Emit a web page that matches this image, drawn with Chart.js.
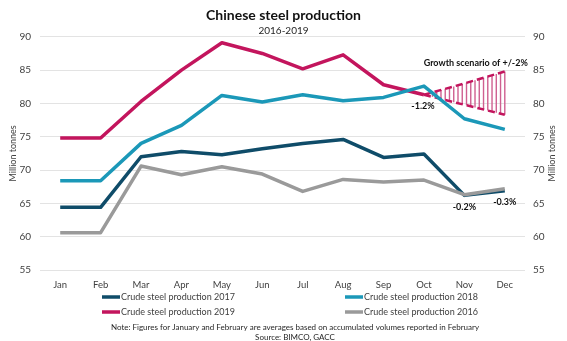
<!DOCTYPE html>
<html>
<head>
<meta charset="utf-8">
<script src="https://cdn.jsdelivr.net/npm/chart.js@4.4.1/dist/chart.umd.min.js"></script>
<style>
    html, body { margin: 0; padding: 0; background: #fff; }
</style>
</head>
<body>
<canvas id="myChart" width="567" height="341"></canvas>
<script>
// ------------------------------------------ data ------------------------------------------
const months = ['Jan', 'Feb', 'Mar', 'Apr', 'May', 'Jun', 'Jul', 'Aug', 'Sep', 'Oct', 'Nov', 'Dec'];
const prod2017 = [64.4, 64.4, 72.0, 72.8, 72.3, 73.2, 74.0, 74.6, 71.9, 72.4, 66.2, 66.9];
const prod2018 = [68.4, 68.4, 74.0, 76.7, 81.2, 80.2, 81.3, 80.4, 80.9, 82.6, 77.7, 76.1];
const prod2019 = [74.8, 74.8, 80.3, 85.0, 89.1, 87.5, 85.2, 87.3, 82.8, 81.3, null, null];
const prod2016 = [60.6, 60.6, 70.6, 69.3, 70.5, 69.4, 66.8, 68.6, 68.2, 68.5, 66.3, 67.2];
const scenarioHigh = [null, null, null, null, null, null, null, null, null, 81.3, 83.0, 84.8];
const scenarioLow = [null, null, null, null, null, null, null, null, null, 81.3, 79.8, 78.3];
const yMin = 55;
const yMax = 90;
const yStep = 5;
const seriesNames = ['Crude steel production 2017', 'Crude steel production 2018', 'Crude steel production 2019', 'Crude steel production 2016'];
const changeTexts = ['-1.2%', '-0.2%', '-0.3%'];
const scenarioText = 'Growth scenario of +/-2%';
const noteText = 'Note: Figures for January and February are averages based on accumulated volumes reported in February';
const sourceText = 'Source: BIMCO, GACC';

const FONT = 'Lato, "Open Sans", sans-serif';
const colors = {
    c2017: '#0f4c69',
    c2018: '#1b98b8',
    c2019: '#c3155d',
    c2016: '#9a9a9a',
    hatch: '#cf5f90'
};

// value of a line between its drawn points, read off the chart's own elements
const pixelAt = (points, px) => {
    for (let i = 0; i < points.length - 1; i++) {
        const a = points[i], b = points[i + 1];
        if (a.skip || b.skip) continue;
        if (px >= a.x && px <= b.x) {
            return a.y + (b.y - a.y) * (px - a.x) / (b.x - a.x);
        }
    }
    return null;
};

// ------------------------------------------ extra drawing ------------------------------------------
const extras = {
    id: 'extras',
    beforeDatasetsDraw(chart) {
        // vertical hatching between the two scenario lines
        const { ctx } = chart;
        const hi = chart.getDatasetMeta(4).data;
        const lo = chart.getDatasetMeta(5).data;
        const x0 = hi[9].x;
        const x1 = hi[11].x;
        const n = 19;
        ctx.save();
        ctx.strokeStyle = colors.hatch;
        ctx.lineWidth = 1.4;
        for (let i = 1; i <= n; i++) {
            const px = Math.min(x0 + (x1 - x0) * i / n, x1);
            const yTop = pixelAt(hi, px);
            const yBot = pixelAt(lo, px);
            if (yTop === null || yBot === null) continue;
            ctx.beginPath();
            ctx.moveTo(px, yTop);
            ctx.lineTo(px, yBot);
            ctx.stroke();
        }
        ctx.restore();
    },
    afterDatasetsDraw(chart) {
        const { ctx } = chart;
        const x = chart.scales.x;
        const y = chart.scales.y;
        ctx.save();
        ctx.fillStyle = '#111';
        ctx.font = 'bold 9px ' + FONT;
        ctx.textBaseline = 'middle';

        ctx.textAlign = 'center';
        ctx.fillText(changeTexts[0], x.getPixelForValue(9) - 1, y.getPixelForValue(prod2019[9]) + 11);
        ctx.fillText(changeTexts[1], x.getPixelForValue(10), y.getPixelForValue(prod2017[10]) + 12);
        ctx.fillText(changeTexts[2], x.getPixelForValue(11), y.getPixelForValue(prod2016[11]) + 13);

        ctx.textAlign = 'right';
        ctx.fillText(scenarioText, x.getPixelForValue(11) + 23, y.getPixelForValue(scenarioHigh[11]) - 8);
        ctx.restore();
    },
    afterDraw(chart) {
        const { ctx } = chart;
        const y = chart.scales.y;
        ctx.save();

        // right axis title, same rotation as the left one
        ctx.fillStyle = '#404040';
        ctx.font = '9px ' + FONT;
        ctx.textAlign = 'center';
        ctx.textBaseline = 'middle';
        ctx.translate(552, (y.top + y.bottom) / 2);
        ctx.rotate(-Math.PI / 2);
        ctx.fillText('Million tonnes', 0, 0);
        ctx.restore();

        // legend in two columns
        ctx.save();
        const items = [
            { text: seriesNames[0], color: colors.c2017, x: 102, y: 297 },
            { text: seriesNames[1], color: colors.c2018, x: 345, y: 297 },
            { text: seriesNames[2], color: colors.c2019, x: 102, y: 312 },
            { text: seriesNames[3], color: colors.c2016, x: 345, y: 312 }
        ];
        ctx.font = '9px ' + FONT;
        ctx.textBaseline = 'middle';
        ctx.textAlign = 'left';
        items.forEach(it => {
            ctx.strokeStyle = it.color;
            ctx.lineWidth = 3.5;
            ctx.beginPath();
            ctx.moveTo(it.x, it.y);
            ctx.lineTo(it.x + 18, it.y);
            ctx.stroke();
            ctx.fillStyle = '#404040';
            ctx.fillText(it.text, it.x + 19, it.y);
        });

        // notes
        ctx.font = '8px ' + FONT;
        ctx.textAlign = 'center';
        ctx.fillStyle = '#262626';
        ctx.fillText(noteText, 295, 327);
        ctx.fillText(sourceText, 295, 337);
        ctx.restore();
    }
};

// ------------------------------------------ chart ------------------------------------------
const lineSet = (label, data, color, order) => ({
    label: label,
    data: data,
    borderColor: color,
    backgroundColor: color,
    borderWidth: 3.5,
    pointRadius: 0,
    tension: 0,
    borderJoinStyle: 'round',
    fill: false,
    order: order
});

const dashSet = (label, data) => ({
    label: label,
    data: data,
    borderColor: colors.c2019,
    backgroundColor: colors.c2019,
    borderWidth: 2.5,
    borderDash: [7, 4],
    pointRadius: 0,
    fill: false,
    order: 4
});

const ctx = document.getElementById('myChart');
new Chart(ctx, {
    type: 'line',
    data: {
        labels: months,
        datasets: [
            lineSet(seriesNames[0], prod2017, colors.c2017, 2),
            lineSet(seriesNames[1], prod2018, colors.c2018, 1),
            lineSet(seriesNames[2], prod2019, colors.c2019, 3),
            lineSet(seriesNames[3], prod2016, colors.c2016, 0),
            dashSet('Scenario +2%', scenarioHigh),
            dashSet('Scenario -2%', scenarioLow)
        ]
    },
    options: {
        responsive: false,
        animation: false,
        devicePixelRatio: 1,
        layout: { padding: { bottom: 50 } },
        plugins: {
            legend: { display: false },
            tooltip: { enabled: false },
            title: {
                display: true,
                text: 'Chinese steel production',
                color: '#111',
                font: { family: FONT, size: 14, weight: 'bold' },
                padding: { top: 7, bottom: 0 }
            },
            subtitle: {
                display: true,
                text: '2016-2019',
                color: '#262626',
                font: { family: FONT, size: 10 },
                padding: { top: 1, bottom: 0 }
            }
        },
        scales: {
            x: {
                offset: true,
                grid: { display: false, drawTicks: false },
                border: { display: false },
                ticks: { color: '#404040', font: { family: FONT, size: 9.5 }, padding: 9, maxRotation: 0 },
                afterFit: (scale) => { scale.height = 21; }
            },
            y: {
                position: 'left',
                min: yMin,
                max: yMax,
                ticks: { stepSize: yStep, color: '#404040', font: { family: FONT, size: 10 }, padding: 9 },
                grid: { color: '#e3e3e3', lineWidth: 1, drawTicks: false },
                border: { display: false },
                title: {
                    display: true,
                    text: 'Million tonnes',
                    color: '#404040',
                    font: { family: FONT, size: 9 },
                    padding: { top: 8, bottom: 0 }
                },
                afterFit: (scale) => { scale.width = 40; }
            },
            y2: {
                position: 'right',
                min: yMin,
                max: yMax,
                ticks: { stepSize: yStep, color: '#404040', font: { family: FONT, size: 10 }, padding: 8 },
                grid: { display: false, drawTicks: false },
                border: { display: false },
                afterFit: (scale) => { scale.width = 42; }
            }
        }
    },
    plugins: [extras]
});
</script>
</body>
</html>
